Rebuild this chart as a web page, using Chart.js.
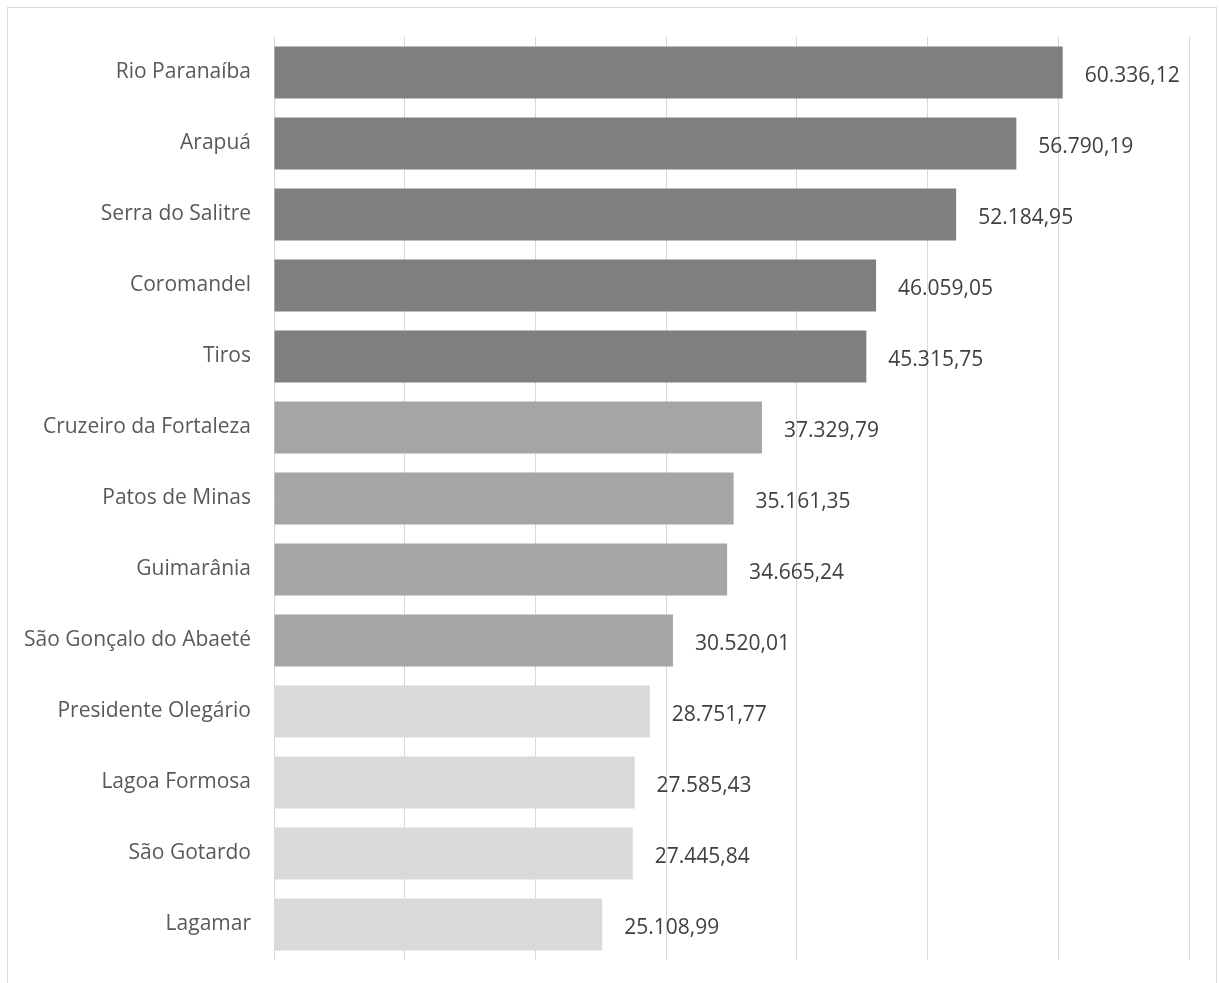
<!DOCTYPE html>
<html>
<head>
<meta charset="utf-8">
<script src="https://cdn.jsdelivr.net/npm/chart.js@4"></script>
<style>
  html, body { margin: 0; padding: 0; background: #fff; }
  canvas { display: block; }
</style>
</head>
<body>
<canvas id="canvas" width="1219" height="983"></canvas>
<script>
const municipios = ['Rio Paranaíba', 'Arapuá', 'Serra do Salitre', 'Coromandel', 'Tiros',
  'Cruzeiro da Fortaleza', 'Patos de Minas', 'Guimarânia', 'São Gonçalo do Abaeté',
  'Presidente Olegário', 'Lagoa Formosa', 'São Gotardo', 'Lagamar'];
const valores = [60336.12, 56790.19, 52184.95, 46059.05, 45315.75, 37329.79, 35161.35,
  34665.24, 30520.01, 28751.77, 27585.43, 27445.84, 25108.99];
const faixa = [0, 0, 0, 0, 0, 1, 1, 1, 1, 2, 2, 2, 2];

const cores = ['#7f7f7f', '#a5a5a5', '#d9d9d9'];
const fonte = '"Open Sans", sans-serif';

// 60.336,12 style
function fmt(v) {
  const parts = v.toFixed(2).split('.');
  const inteiro = parts[0].replace(/\B(?=(\d{3})+(?!\d))/g, '.');
  return inteiro + ',' + parts[1];
}

const moldura = {
  id: 'moldura',
  beforeDraw(chart) {
    const c = chart.ctx;
    c.save();
    c.fillStyle = '#fff';
    c.fillRect(0, 0, chart.width, chart.height);
    c.strokeStyle = '#d9d9d9';
    c.lineWidth = 1;
    c.strokeRect(7.5, 7.5, 1209, 1000);
    c.restore();
  }
};

const rotulos = {
  id: 'rotulos',
  afterDatasetsDraw(chart) {
    const c = chart.ctx;
    const meta = chart.getDatasetMeta(0);
    c.save();
    c.font = '21px ' + fonte;
    c.fillStyle = '#404040';
    c.textAlign = 'left';
    c.textBaseline = 'middle';
    meta.data.forEach((bar, i) => {
      c.fillText(fmt(valores[i]), bar.x + 22, bar.y + 4);
    });
    c.restore();
  }
};

const ctx = document.getElementById('canvas');
new Chart(ctx, {
  type: 'bar',
  data: {
    labels: municipios,
    datasets: [{
      data: valores,
      backgroundColor: faixa.map(f => cores[f]),
      borderWidth: 0,
      categoryPercentage: 1,
      barPercentage: 0.73
    }]
  },
  options: {
    indexAxis: 'y',
    responsive: false,
    animation: false,
    layout: { padding: { top: 37, bottom: 23, right: 30, left: 0 } },
    plugins: { legend: { display: false }, tooltip: { enabled: false } },
    scales: {
      x: {
        min: 0,
        max: 70000,
        ticks: { display: false, stepSize: 10000 },
        grid: { color: '#d9d9d9', lineWidth: 1, drawTicks: false },
        border: { display: false },
        afterFit(s) { s.height = 0; }
      },
      y: {
        grid: { display: false, drawTicks: false },
        border: { display: false },
        ticks: { color: '#595959', font: { family: fonte, size: 21 }, padding: 23 },
        afterFit(s) {
          s.width = 274;
          s.paddingTop = 0;
          s.paddingBottom = 0;
        }
      }
    }
  },
  plugins: [moldura, rotulos]
});
</script>
</body>
</html>
